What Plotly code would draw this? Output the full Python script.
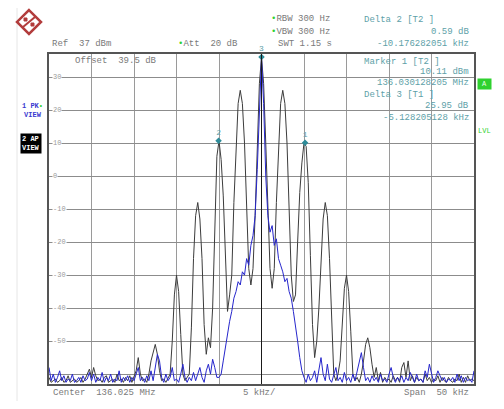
import numpy as np
import plotly.graph_objects as go

# analyzer settings
center_mhz = 136.025
span_khz = 50.0
n_points = 201
ref_level = 37
range_db = 100

# sweep bins, offset from center in kHz
freq_khz = np.linspace(-span_khz / 2, span_khz / 2, n_points)

# trace 1 (PK, blue), dBm
trace1_pk = [
    -58, -62, -60, -62.5, -61, -59, -62, -60.5, -62.5, -61.5,
    -62, -60, -62.5, -62, -61, -62.5, -60.5, -62, -61.5, -59.5,
    -62, -60, -62.5, -61, -62, -59.5, -62.5, -61, -62, -60,
    -62.5, -61.5, -62, -59, -62.5, -61, -62, -60.5, -62.5, -61,
    -62, -60, -58, -62, -61, -62.5, -60.5, -62, -59, -62,
    -58, -54, -56, -61, -62.5, -60, -62, -61, -58, -62,
    -61.5, -62.5, -60, -57, -61, -62.5, -61, -62, -59.5, -62,
    -60, -58, -61, -62.5, -59, -57, -60, -55.5, -58, -61,
    -61, -60, -56, -52, -47, -44, -41, -37, -35, -32,
    -33, -29, -30, -25, -27, -21, -18, -12, 2, 22,
    36, 22, 0, -12, -17, -15, -21, -19, -25, -27,
    -29, -32, -31, -35, -37, -41, -45, -50, -55, -59,
    -61,
    -62.5, -60, -62, -61, -59, -62.5, -58, -55, -60, -62,
    -57, -61.5, -62.5, -60, -58, -62, -61, -62.5, -59.5, -62,
    -61, -62.5, -60, -62, -59, -56, -53.5, -58, -62, -61,
    -62.5, -60.5, -62, -61, -62.5, -60, -62, -61.5, -62.5, -60,
    -58, -61, -62.5, -61, -62, -60.5, -62.5, -61, -62, -59.5,
    -61, -62.5, -60, -62, -61.5, -62.5, -59, -61, -57, -60,
    -62.5, -61, -59, -60.5, -62, -61, -62.5, -61.5, -62, -61,
    -62.5, -60, -62, -60.5, -62.5, -61, -62, -61.5, -62.5, -59,
]

# trace 2 (AP, black), dBm
trace2_ap = [
    -61, -62.5, -62, -61.5, -62.5, -62, -61, -62.5, -62, -60.5,
    -62.5, -62, -61.5, -62.5, -62, -61, -62.5, -61.5, -60, -58.5,
    -61, -58, -60.5, -62, -61.5, -62.5, -61, -60.5, -62.5, -62,
    -61.5, -62.5, -60, -62, -61.5, -62.5, -61,
    -62, -60.5, -62.5, -61, -59, -55, -60, -62, -61.5, -62.5,
    -60, -56, -53, -51, -54, -59, -62, -61.5, -62.5, -61,
    -60, -50, -36, -30, -35, -48, -60, -62, -61, -60,
    -46, -25, -12, -8, -13, -25, -45, -54, -49, -52,
    -40, -18, 6, 10.7, 5, -6, -26, -41, -36, -30,
    -8, 10, 22, 26, 22, 10, -8, -28, -33, -28,
    -12, 10, 28,
    36,
    28, 10, -12, -28, -34, -28, -8, 10, 22, 26,
    22, 10, -8, -30, -38, -36, -20, -5, 4, 10.1,
    9, -2, -24, -45, -55, -50, -40, -24, -13, -8,
    -12, -25, -46, -60, -62, -60, -56, -46, -34, -30,
    -35, -47, -60, -62, -61, -62.5, -60, -56, -51, -49,
    -52, -57, -61, -58, -62, -59.5, -62.5, -61, -62, -61.5,
    -62.5, -60.5, -62, -61, -62.5, -58, -56.5, -61, -56, -62,
    -60.5, -62.5, -61, -62, -61.5, -62.5, -60, -62, -61, -62.5,
    -61.5, -62, -60.5, -62.5, -61, -62, -62.5, -61, -62, -62.5,
    -61.5, -62, -60, -62.5, -61, -62.5, -60.5, -62, -61.5, -62,
]

assert len(trace1_pk) == n_points, len(trace1_pk)
assert len(trace2_ap) == n_points, len(trace2_ap)

# markers: 1 [T2], 2 = delta to 1, 3 [T1] = delta to 1
marker_names = ["1", "2", "3"]
marker_freq = [5.128205128, 5.128205128 - 10.176282051, 5.128205128 - 5.128205128]
marker_level = [10.11, 10.11 + 0.59, 10.11 + 25.95]

y_tick_vals = [30, 20, 10, 0, -10, -20, -30, -40, -50]
y_tick_text = ["30", "20", "10", "0", "-10", "-20", "-30", "-40", "-50"]
y_grid_vals = [30, 20, 10, 0, -10, -20, -30, -40, -50, -60]

MONO = "Liberation Mono"
GREY = "#7a7a7a"
TEAL = "#5e9fa8"
GREEN = "#2fd12f"
BLUE = "#3a3ad0"

# page body has an 8px margin, so the figure sits at (8, 8) in the window
OX, OY = 8, 8
W, H = 488, 393
L, T = 49 - OX, 54 - OY
R = W - (474 - OX)
B = H - (384 - OY)
PW, PH = W - L - R, H - T - B


def fx(x):
    return (x - OX - L) / PW


def fy(y):
    return (H - B - (y - OY)) / PH


def ann(x, y, text, color=GREY, size=9, anchor="left", **kw):
    return dict(xref="paper", yref="paper", x=fx(x), y=fy(y),
                text=text, showarrow=False, xanchor=anchor, yanchor="middle",
                font=dict(family=MONO, size=size, color=color), **kw)


def pp(x, y):
    return "%.4f,%.4f" % (fx(x), fy(y))


fig = go.Figure()
fig.add_trace(go.Scatter(x=freq_khz, y=trace2_ap, mode="lines",
                         line=dict(color="#3c3c3c", width=1), name="2 AP"))
fig.add_trace(go.Scatter(x=freq_khz, y=trace1_pk, mode="lines",
                         line=dict(color="#2626cc", width=1), name="1 PK"))
fig.add_trace(go.Scatter(x=marker_freq, y=marker_level, mode="markers+text",
                         text=marker_names, textposition="top center",
                         marker=dict(symbol="diamond", size=5, color="#2e8c99"),
                         textfont=dict(family=MONO, size=8, color=TEAL),
                         cliponaxis=False, name="markers"))

annotations = []
for v, t in zip(y_tick_vals, y_tick_text):
    annotations.append(dict(xref="paper", yref="y", x=3 / PW, y=v, text=t,
                            showarrow=False, xanchor="left", yanchor="middle",
                            bgcolor="white", borderpad=0,
                            font=dict(family=MONO, size=7, color="#9a9a9a")))

dot = "<span style='color:%s'>•</span>" % GREEN
annotations += [
    ann(50, 44, "Ref  37 dBm"),
    ann(176, 44, dot + "Att  20 dB"),
    ann(269, 19, dot + "RBW 300 Hz"),
    ann(269, 32, dot + "VBW 300 Hz"),
    ann(276, 44, "SWT 1.15 s"),
    ann(362, 20, "Delta 2 [T2 ]", TEAL),
    ann(471, 32, "0.59 dB", TEAL, anchor="right"),
    ann(471, 44, "-10.176282051 kHz", TEAL, anchor="right"),
    ann(73, 61, "Offset  39.5 dB"),
    ann(362, 62, "Marker 1 [T2 ]", TEAL),
    ann(471, 72, "10.11 dBm", TEAL, anchor="right"),
    ann(471, 83, "136.030128205 MHz", TEAL, anchor="right"),
    ann(362, 95, "Delta 3 [T1 ]", TEAL),
    ann(471, 106, "25.95 dB", TEAL, anchor="right"),
    ann(471, 118, "-5.128205128 kHz", TEAL, anchor="right"),
    ann(51, 393, "Center  136.025 MHz"),
    ann(259, 393, "5 kHz/", anchor="center"),
    ann(471, 393, "Span  50 kHz", anchor="right"),
    ann(20, 110, "<b>1 PK</b>" + dot + "<br><b>VIEW</b>", BLUE, size=7),
    ann(20, 143, "<b>2 AP</b><br><b>VIEW</b>", "white", size=7, bgcolor="black", borderpad=1),
    ann(477, 84, "A", "#e8ffe8", size=7, bgcolor=GREEN, borderpad=1, width=11),
    ann(476, 131, "LVL", GREEN, size=7),
]

shapes = [
    dict(type="line", xref="x", yref="paper", x0=0, x1=0, y0=0, y1=1,
         line=dict(color="#1a1a1a", width=1)),
    dict(type="line", xref="paper", yref="paper", x0=fx(17), x1=fx(17),
         y0=fy(401), y1=fy(8), line=dict(color="#e6e6e6", width=1)),
    # R&S logo
    dict(type="path", xref="paper", yref="paper",
         path="M%s L%s L%s L%s Z" % (pp(29, 10), pp(41, 22), pp(29, 34), pp(17, 22)),
         line=dict(color="#b23c3c", width=2.5)),
    dict(type="path", xref="paper", yref="paper",
         path="M%s L%s" % (pp(23, 27), pp(35, 17)),
         line=dict(color="#b23c3c", width=2)),
    dict(type="path", xref="paper", yref="paper",
         path="M%s L%s L%s L%s Z" % (pp(24, 18), pp(27, 18), pp(27, 21), pp(24, 21)),
         fillcolor="#b23c3c", line=dict(color="#b23c3c", width=1)),
    dict(type="path", xref="paper", yref="paper",
         path="M%s L%s L%s L%s Z" % (pp(31, 23), pp(34, 23), pp(34, 26), pp(31, 26)),
         fillcolor="#b23c3c", line=dict(color="#b23c3c", width=1)),
]

fig.update_layout(
    width=W, height=H,
    margin=dict(l=L, r=R, t=T, b=B, pad=0),
    paper_bgcolor="white", plot_bgcolor="white",
    showlegend=False,
    annotations=annotations,
    shapes=shapes,
    xaxis=dict(range=[-span_khz / 2, span_khz / 2], tick0=-25, dtick=5,
               showgrid=True, gridcolor="#9a9a9a", gridwidth=1,
               showticklabels=False, ticks="", zeroline=False,
               showline=True, mirror=True, linecolor="#555555", linewidth=2,
               fixedrange=True),
    yaxis=dict(range=[ref_level - range_db, ref_level], tickvals=y_grid_vals,
               showgrid=True, gridcolor="#8c8c8c", gridwidth=1,
               showticklabels=False, ticks="", zeroline=False,
               showline=True, mirror=True, linecolor="#555555", linewidth=2,
               fixedrange=True),
)

fig.write_html("out.html")
